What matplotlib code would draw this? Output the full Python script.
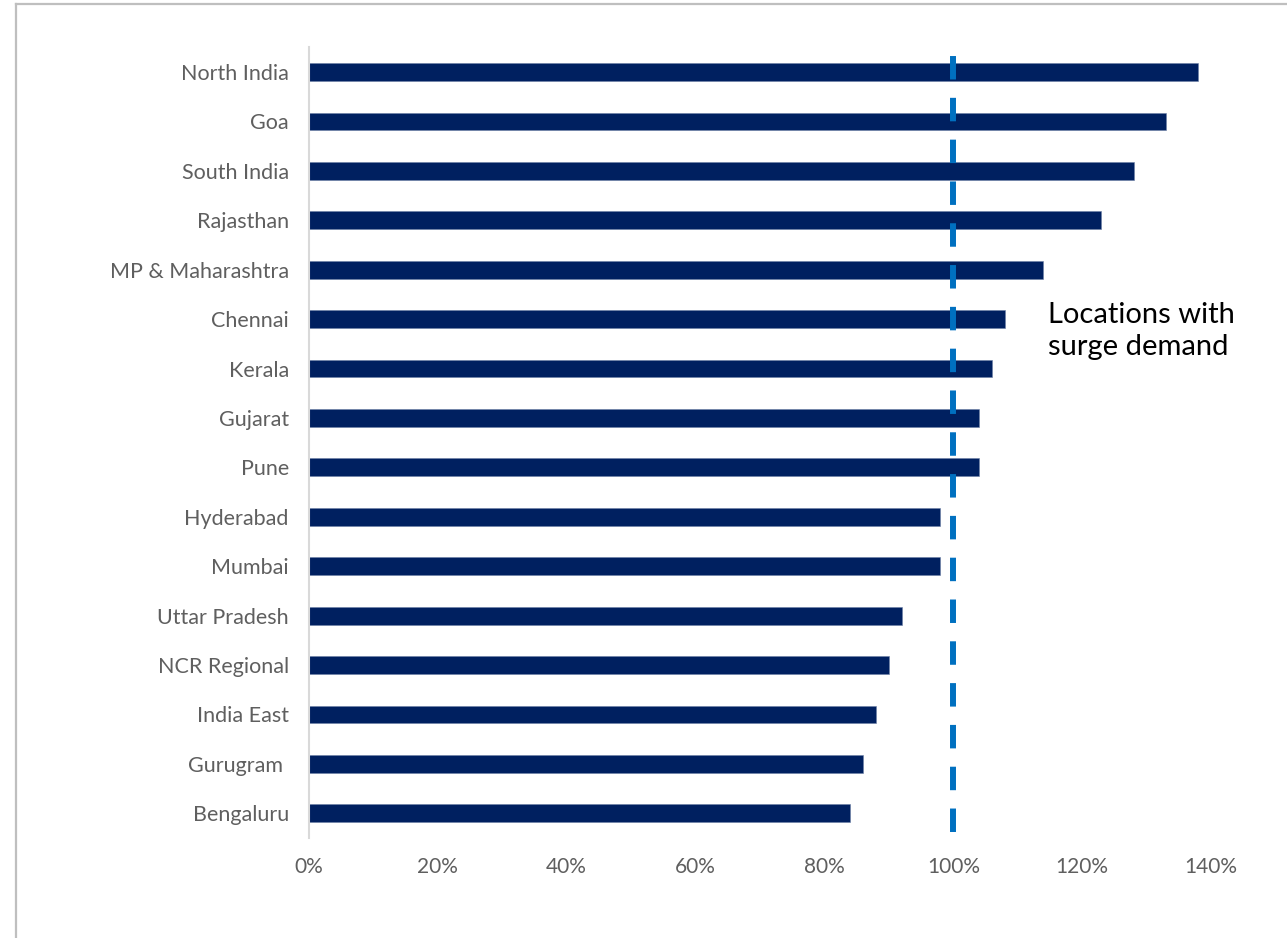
import matplotlib
matplotlib.use("Agg")
import matplotlib.pyplot as plt
from matplotlib.lines import Line2D
import numpy as np

# Demand index by location (share of baseline, %)
locations = ["North India", "Goa", "South India", "Rajasthan", "MP & Maharashtra",
             "Chennai", "Kerala", "Gujarat", "Pune", "Hyderabad", "Mumbai",
             "Uttar Pradesh", "NCR Regional", "India East", "Gurugram ", "Bengaluru"]
demand_pct = [138, 133, 128, 123, 114, 108, 106, 104, 104, 98, 98, 92, 90, 88, 86, 84]
x_ticks = [0, 20, 40, 60, 80, 100, 120, 140]
x_tick_labels = ["0%", "20%", "40%", "60%", "80%", "100%", "120%", "140%"]
threshold = 100
note = "Locations with\nsurge demand"

plt.rcParams["font.family"] = ["Lato", "DejaVu Sans"]
plt.rcParams["lines.scale_dashes"] = False

W, H = 1287, 938
fig = plt.figure(figsize=(W / 100, H / 100), dpi=100)
fig.patch.set_facecolor("white")

# Outer frame (top and left edges visible)
fig.add_artist(Line2D([16 / W, 1.0], [1 - 4 / H, 1 - 4 / H], transform=fig.transFigure,
                      color="#bfbfbf", lw=1.6))
fig.add_artist(Line2D([16 / W, 16 / W], [0.0, 1 - 4 / H], transform=fig.transFigure,
                      color="#bfbfbf", lw=1.6))

ax = fig.add_axes([309 / W, 1 - 838 / H, (1211 - 309) / W, (838 - 47.3) / H])

y = np.arange(len(locations))
ax.barh(y, demand_pct, height=0.36, color="#002060", edgecolor="#6c7fa6", linewidth=0.4,
        zorder=2)

ax.set_ylim(len(locations) - 0.5, -0.5)
ax.set_xlim(0, 140)

ax.axvline(threshold, ymin=0.0075, ymax=0.9925, color="#0070C0", lw=4.3,
           linestyle=(0, (16.9, 13.2)), dash_capstyle="butt", zorder=3)

ax.set_yticks(y)
ax.set_yticklabels(locations)
ax.set_xticks(x_ticks)
ax.set_xticklabels(x_tick_labels)

ax.tick_params(axis="y", length=0, pad=14.5, labelsize=15.5, labelcolor="#5f5f5f")
ax.tick_params(axis="x", length=0, pad=14, labelsize=15, labelcolor="#5f5f5f")

for side in ["top", "right", "bottom"]:
    ax.spines[side].set_visible(False)
ax.spines["left"].set_color("#d9d9d9")
ax.spines["left"].set_linewidth(1.5)

fig.text(1048 / W, 1 - 331 / H, note, fontsize=21,
         color="#000000", ha="left", va="center", linespacing=1.3)

fig.savefig("out.png", dpi=100)
